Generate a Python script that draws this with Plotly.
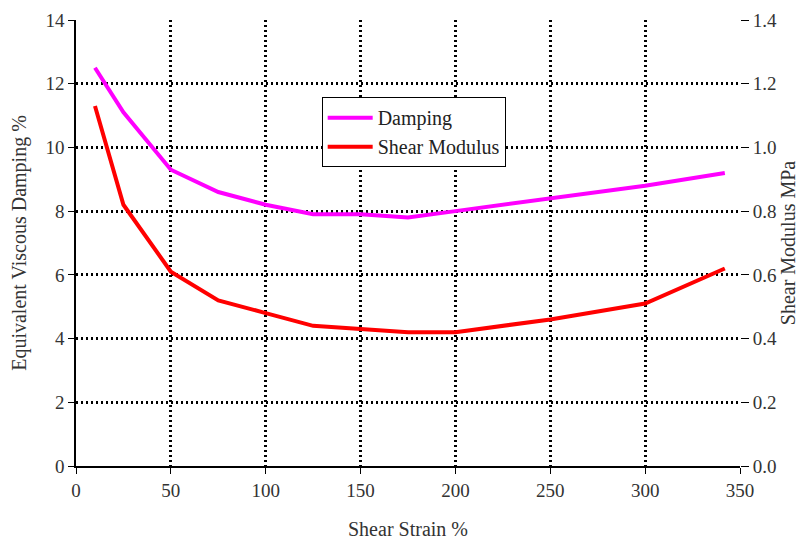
import plotly.graph_objects as go

strain = [10, 25, 50, 75, 100, 125, 150, 175, 200, 250, 300, 342]
damping = [12.5, 11.1, 9.3, 8.6, 8.2, 7.9, 7.9, 7.8, 8.0, 8.4, 8.8, 9.2]
shear_modulus = [1.13, 0.82, 0.61, 0.52, 0.48, 0.44, 0.43, 0.42, 0.42, 0.46, 0.51, 0.62]

FONT = "Liberation Serif"

fig = go.Figure()
fig.add_trace(go.Scatter(x=strain, y=damping, mode="lines", name="Damping",
                         line=dict(color="#FF00FF", width=4)))
fig.add_trace(go.Scatter(x=strain, y=shear_modulus, mode="lines", name="Shear Modulus",
                         line=dict(color="#FF0000", width=4), yaxis="y2"))

grid = dict(showgrid=True, gridcolor="black", gridwidth=2.5, griddash="2px,3px")

fig.update_layout(
    width=810, height=542,
    margin=dict(l=68, r=78, t=12, b=84),
    paper_bgcolor="white", plot_bgcolor="white",
    font=dict(family=FONT, size=19, color="#333333"),
    xaxis=dict(range=[0, 350], dtick=50, showline=True, linecolor="black", linewidth=1.5,
               ticks="outside", ticklen=6, tickcolor="black", zeroline=False,
               automargin=False, tickfont=dict(size=19),
               title=dict(text="Shear Strain %", font=dict(size=20), standoff=22),
               **grid),
    yaxis=dict(range=[0, 14], dtick=2, showline=True, linecolor="black", linewidth=1.5,
               ticks="outside", ticklen=6, tickcolor="black", zeroline=False,
               automargin=False, tickfont=dict(size=19),
               title=dict(text="Equivalent Viscous Damping %", font=dict(size=20), standoff=13),
               **grid),
    yaxis2=dict(range=[0, 1.4], dtick=0.2, tickformat=".1f", overlaying="y", side="right",
                showgrid=False, zeroline=False, ticks="outside", ticklen=8, tickcolor="black",
                showline=False, automargin=False, tickfont=dict(size=19),
                title=dict(text="Shear Modulus MPa", font=dict(size=20), standoff=4)),
    legend=dict(x=0.37, y=0.827, xanchor="left", yanchor="top", bgcolor="white",
                bordercolor="black", borderwidth=1, font=dict(size=20, color="#222222"),
                tracegroupgap=0, itemwidth=45),
    showlegend=True,
)

fig.write_html("out.html")
